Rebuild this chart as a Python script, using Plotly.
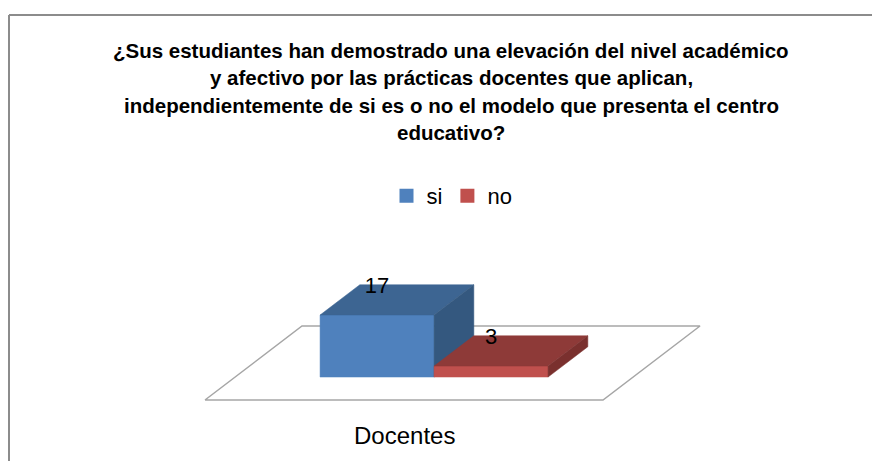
import plotly.graph_objects as go

# datos del grafico
categoria = "Docentes"
series = ["si", "no"]
valores = [17, 3]
colores_frente = ["#4F81BD", "#C0504D"]
colores_arriba = ["#3D6592", "#8E3A38"]
colores_lado = ["#34587F", "#7A302E"]
titulo = [
    "¿Sus estudiantes han demostrado una elevación del nivel académico",
    "y afectivo por las prácticas docentes que aplican,",
    "independientemente de si es o no el modelo que presenta el centro",
    "educativo?",
]

# geometria de la vista oblicua (en pixeles de la pagina)
W, H = 880, 461
M = 8  # margen del body del html
piso_x0, piso_x1 = 205, 603
base_y = 400
prof_dx, prof_dy = 97, 74
z0, z1 = 0.31, 0.72
px_por_unidad = 62 / 17
ancho_barra = 114
centro_cat = (piso_x0 + piso_x1) / 2


def proy(x, v, z):
    return x + z * prof_dx, base_y - z * prof_dy - v * px_por_unidad


def poligono(puntos):
    pts = [proy(*p) for p in puntos]
    pts.append(pts[0])
    return [p[0] for p in pts], [p[1] for p in pts]


fig = go.Figure()

# piso
xs, ys = poligono([(piso_x0, 0, 0), (piso_x1, 0, 0), (piso_x1, 0, 1), (piso_x0, 0, 1)])
fig.add_trace(go.Scatter(x=xs, y=ys, mode="lines", fill="toself", fillcolor="white",
                         line=dict(color="#A6A6A6", width=1.5), showlegend=False, hoverinfo="skip"))

etiq_x, etiq_y = [], []
for i, v in enumerate(valores):
    xa = centro_cat - ancho_barra + i * ancho_barra
    xb = xa + ancho_barra
    caras = [
        ([(xa, 0, z0), (xb, 0, z0), (xb, v, z0), (xa, v, z0)], colores_frente[i]),
        ([(xa, v, z0), (xb, v, z0), (xb, v, z1), (xa, v, z1)], colores_arriba[i]),
        ([(xb, 0, z0), (xb, 0, z1), (xb, v, z1), (xb, v, z0)], colores_lado[i]),
    ]
    for pts, col in caras:
        xs, ys = poligono(pts)
        fig.add_trace(go.Scatter(x=xs, y=ys, mode="lines", fill="toself", fillcolor=col,
                                 line=dict(color=col, width=0.5), showlegend=False,
                                 hoverinfo="skip"))
    etiq_x.append(proy((xa + xb) / 2, v, z0)[0])
    etiq_y.append(proy((xa + xb) / 2, v, z1)[1] + 3)

fig.add_trace(go.Scatter(x=etiq_x, y=etiq_y, mode="text", text=[str(v) for v in valores],
                         textposition="middle center", textfont=dict(size=22, color="black"),
                         showlegend=False, hoverinfo="skip"))

# leyenda
for i, s in enumerate(series):
    fig.add_trace(go.Scatter(x=[None], y=[None], mode="markers", name=s,
                             marker=dict(symbol="square", size=14, color=colores_frente[i])))

anots = []
for j, linea in enumerate(titulo):
    anots.append(dict(x=451, y=50 + j * 27.5, xref="x", yref="y", text="<b>" + linea + "</b>",
                      showarrow=False, font=dict(size=20.5, color="black"),
                      xanchor="center", yanchor="middle"))
anots.append(dict(x=centro_cat, y=435, xref="x", yref="y", text=categoria, showarrow=False,
                  font=dict(size=24, color="black"), xanchor="center", yanchor="middle"))

fig.update_layout(
    width=W - M, height=H - M,
    margin=dict(l=0, r=0, t=0, b=0),
    paper_bgcolor="white", plot_bgcolor="white",
    font=dict(family="Liberation Sans, Arial, sans-serif", color="black"),
    xaxis=dict(range=[M, W], visible=False, fixedrange=True),
    yaxis=dict(range=[H, M], visible=False, fixedrange=True),
    legend=dict(orientation="h", x=(452 - M) / (W - M), xanchor="center",
                y=1 - (196 - M) / (H - M), yanchor="middle",
                font=dict(size=22), bgcolor="rgba(0,0,0,0)", itemwidth=30),
    annotations=anots,
    shapes=[
        dict(type="line", xref="x", yref="y", x0=9, y0=15, x1=W, y1=15,
             line=dict(color="#8C8C8C", width=2)),
        dict(type="line", xref="x", yref="y", x0=9, y0=15, x1=9, y1=H,
             line=dict(color="#8C8C8C", width=2)),
    ],
)

fig.write_html("out.html")
